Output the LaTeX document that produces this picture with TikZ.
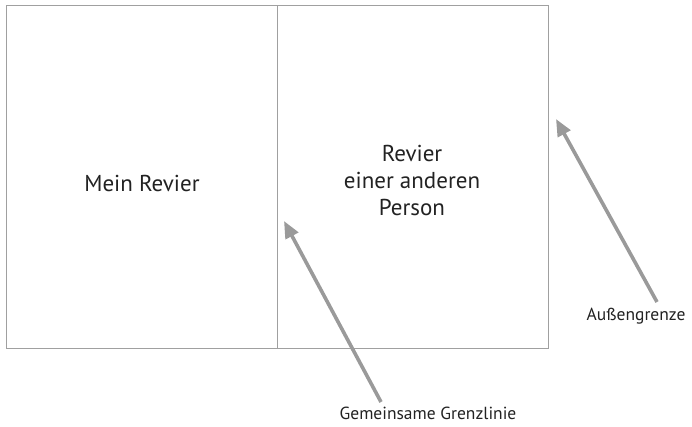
\documentclass[tikz,border=0pt]{standalone}
\usepackage{fontspec}
\setmainfont{PT Sans}
\usetikzlibrary{arrows.meta}
\definecolor{boxgray}{HTML}{A0A0A0}
\definecolor{arrowgray}{HTML}{9A9A9A}
\definecolor{txt}{HTML}{222222}
\begin{document}
\begin{tikzpicture}[x=1pt,y=-1pt,
  area/.style={draw=boxgray,line width=0.9pt},
  pointer/.style={draw=arrowgray,line width=3.6pt,-{Triangle[length=17pt,width=14pt]}},
  bigtext/.style={text=txt,font=\fontsize{23}{27}\selectfont,align=center},
  smalltext/.style={text=txt,font=\fontsize{17.5}{20}\selectfont}]
\useasboundingbox (0,0) rectangle (692,426);
\draw[area] (6,5) rectangle (548,348);
\coordinate (dt) at (277,5);
\coordinate (db) at (277,348);
\draw[area] (dt) -- (db);
\node[bigtext] (mine) at (142,183) {Mein Revier};
\node[bigtext] (other) at (412,180) {Revier\\einer anderen\\Person};
\node[smalltext] (common) at (428,413) {Gemeinsame Grenzlinie};
\node[smalltext] (outer) at (636,316) {Außengrenze};
\coordinate (t1) at (284,221);
\coordinate (s1) at (381,402);
\coordinate (t2) at (556,119);
\coordinate (s2) at (657,302);
\draw[pointer] (s1) -- (t1);
\draw[pointer] (s2) -- (t2);
\end{tikzpicture}
\end{document}
